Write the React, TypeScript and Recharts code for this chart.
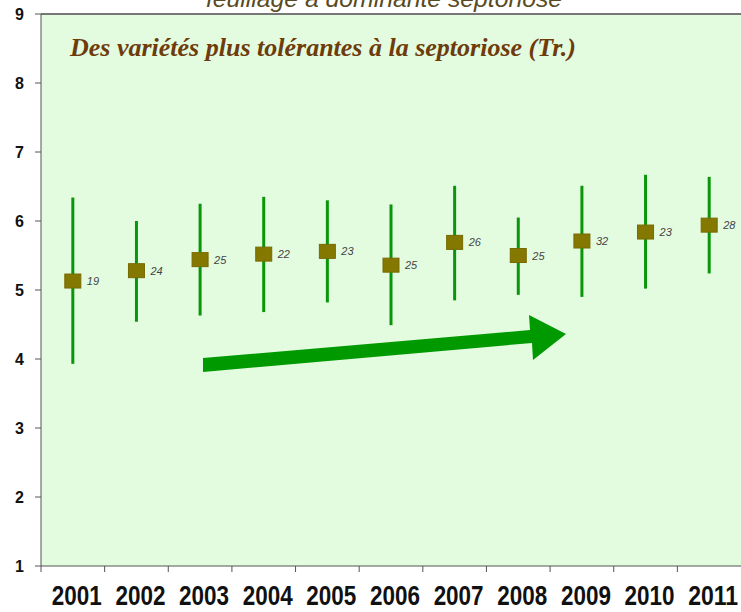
import React from "react";
import {
  ComposedChart,
  Scatter,
  ErrorBar,
  XAxis,
  YAxis,
  CartesianGrid,
  ReferenceLine,
  LabelList,
} from "recharts";

const years = ["2001", "2002", "2003", "2004", "2005", "2006", "2007", "2008", "2009", "2010", "2011"];
const means = [5.13, 5.28, 5.44, 5.52, 5.56, 5.36, 5.69, 5.5, 5.71, 5.84, 5.94];
const highs = [6.34, 6.0, 6.25, 6.35, 6.3, 6.24, 6.51, 6.05, 6.51, 6.67, 6.64];
const lows = [3.93, 4.54, 4.63, 4.68, 4.82, 4.49, 4.85, 4.93, 4.9, 5.02, 5.24];
const counts = [19, 24, 25, 22, 23, 25, 26, 25, 32, 23, 28];
const yTicks = [1, 2, 3, 4, 5, 6, 7, 8, 9];

const W = 741;
const H = 612;
const Y_AXIS_W = 41;
const BAND = (W - Y_AXIS_W) / years.length;

// each year sits in the middle of its slot on a 0..n axis
const data = years.map((year, i) => ({
  pos: i + 0.5,
  year,
  mean: means[i],
  err: [means[i] - lows[i], highs[i] - means[i]],
  n: counts[i],
}));
const xTicks = data.map((d) => d.pos);

const XTick = (props: any) => {
  const { x, y, index } = props;
  return (
    <g>
      <line x1={x - BAND / 2} y1={y} x2={x - BAND / 2} y2={y + 6} stroke="#555" strokeWidth={1} />
      <text
        x={x + 4}
        y={y + 39}
        textAnchor="middle"
        fontFamily="'Liberation Sans', Arial, sans-serif"
        fontWeight="bold"
        fontSize={27}
        textLength={50}
        lengthAdjust="spacingAndGlyphs"
        fill="#111"
      >
        {years[index]}
      </text>
    </g>
  );
};

const Marker = (props: any) => {
  const { cx, cy } = props;
  return <rect x={cx - 8} y={cy - 7} width={16} height={14} fill="#857800" stroke="#766a00" strokeWidth={1} />;
};

const CountLabel = (props: any) => {
  const { x, y, width, height, value } = props;
  const cx = x + (width || 0) / 2;
  const cy = y + (height || 0) / 2;
  return (
    <text
      x={cx + 14}
      y={cy + 4}
      fontFamily="'Liberation Sans', Arial, sans-serif"
      fontStyle="italic"
      fontSize={11}
      fill="#444"
    >
      {value}
    </text>
  );
};

export default function App() {
  return (
    <div style={{ position: "absolute", left: 0, top: 0, width: W, height: H, background: "#fff" }}>
      <ComposedChart width={W} height={H} data={data} margin={{ top: 14, right: 0, bottom: 0, left: 0 }}>
        <CartesianGrid fill="#e3fce0" horizontal={false} vertical={false} stroke="none" />
        <XAxis
          dataKey="pos"
          type="number"
          domain={[0, years.length]}
          ticks={xTicks}
          interval={0}
          height={46}
          tickSize={0}
          tickMargin={0}
          tickLine={false}
          axisLine={{ stroke: "#555", strokeWidth: 1 }}
          tick={<XTick />}
        />
        <YAxis
          type="number"
          domain={[1, 9]}
          ticks={yTicks}
          width={Y_AXIS_W}
          tickSize={6}
          tickMargin={11}
          axisLine={{ stroke: "#555" }}
          tickLine={{ stroke: "#555" }}
          tick={{ fill: "#111", fontSize: 16, fontWeight: "bold", fontFamily: "'Liberation Sans', Arial, sans-serif" }}
        />
        <ReferenceLine y={9} stroke="#777" strokeWidth={2} />
        <Scatter dataKey="mean" shape={<Marker />} isAnimationActive={false}>
          <ErrorBar dataKey="err" direction="y" width={0} stroke="#0a960a" strokeWidth={3} isAnimationActive={false} />
          <LabelList dataKey="n" content={<CountLabel />} />
        </Scatter>
      </ComposedChart>
      <svg
        width={W}
        height={H}
        style={{ position: "absolute", left: 0, top: 0, pointerEvents: "none" }}
      >
        <text
          x={384}
          y={7}
          textAnchor="middle"
          fontFamily="'Liberation Sans', Arial, sans-serif"
          fontStyle="italic"
          fontSize={24}
          textLength={356}
          lengthAdjust="spacingAndGlyphs"
          fill="#5a4a22"
        >
          feuillage à dominante septoriose
        </text>
        <text
          x={70}
          y={56}
          fontFamily="'Liberation Serif', 'Times New Roman', serif"
          fontStyle="italic"
          fontWeight="bold"
          fontSize={26}
          fill="#6e3b0b"
        >
          Des variétés plus tolérantes à la septoriose (Tr.)
        </text>
        <polygon
          points="203,358 530,330 529,315 566,334 533,360 532,343 203,372"
          fill="#009900"
        />
      </svg>
    </div>
  );
}
